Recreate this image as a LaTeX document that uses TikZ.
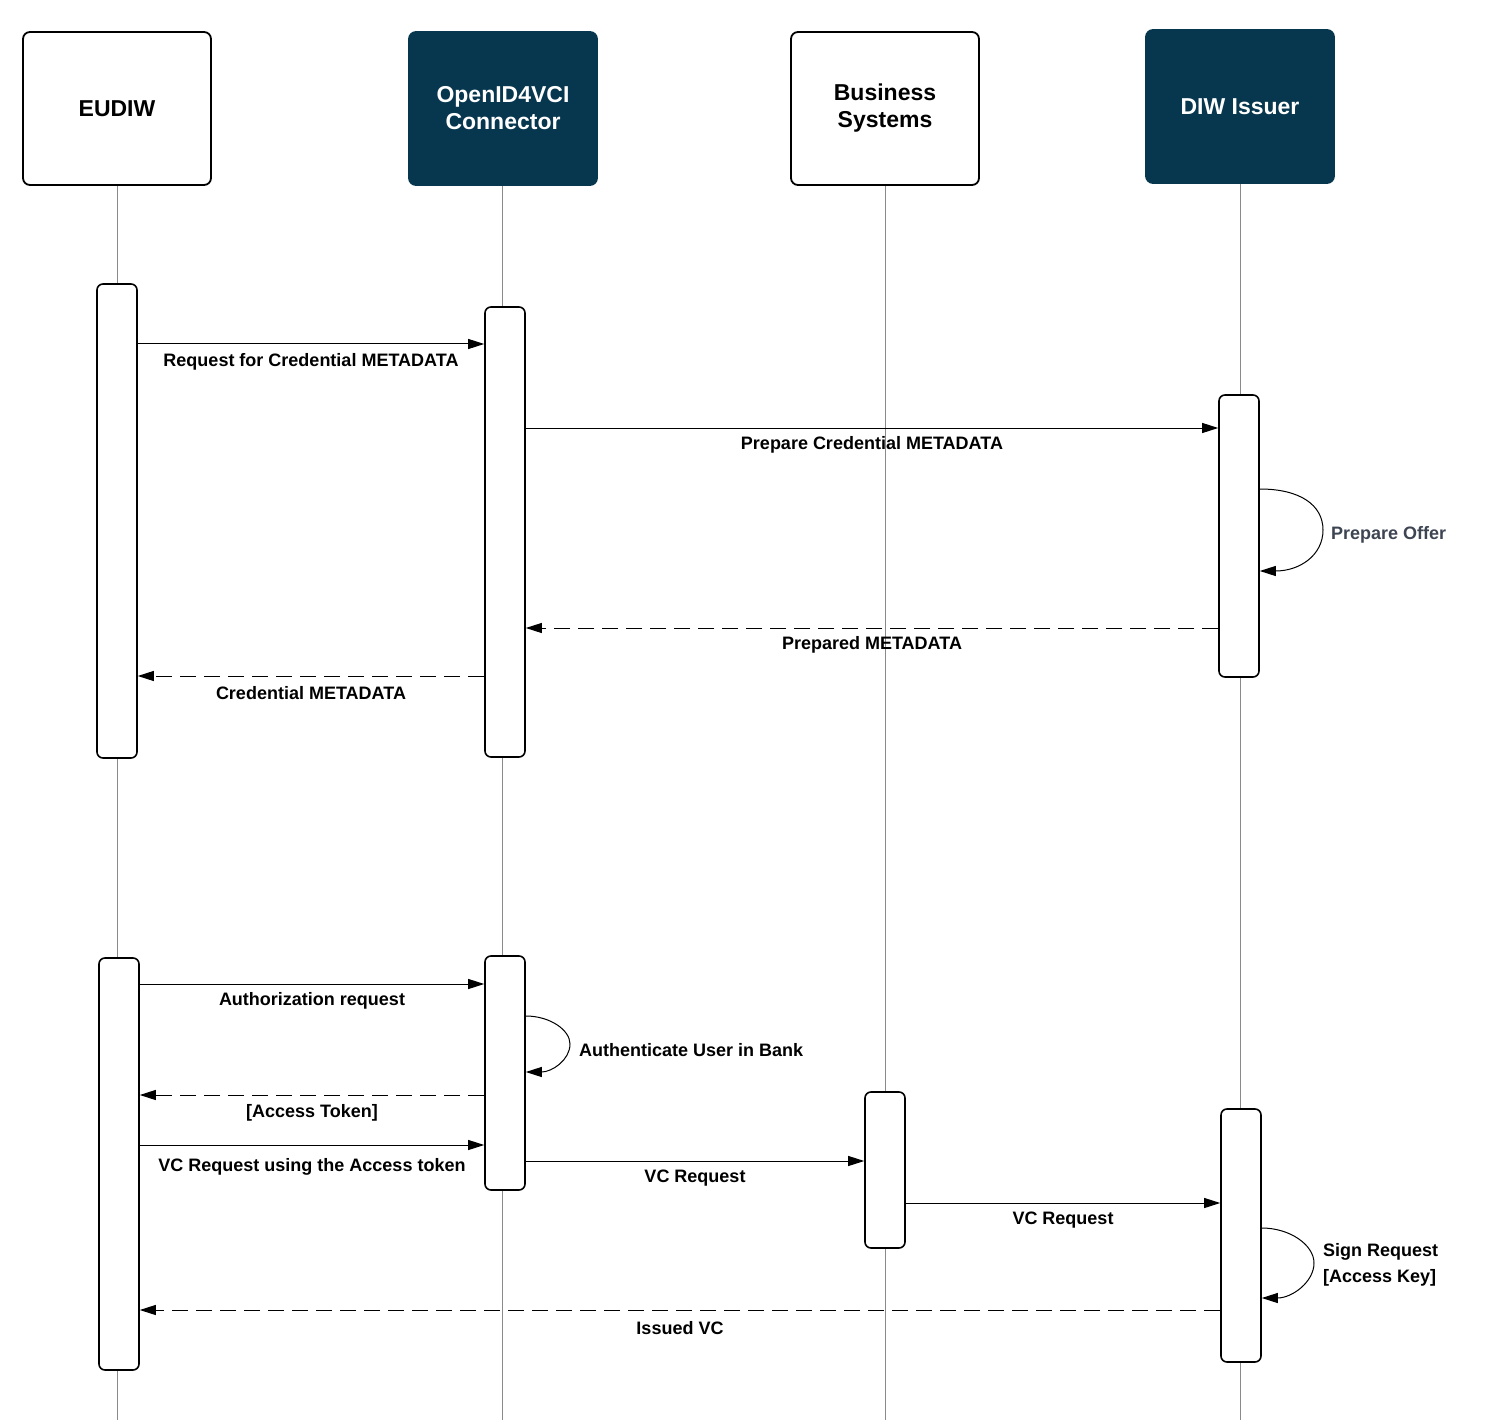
\documentclass[tikz,border=0pt]{standalone}
\usepackage{fontspec}
\setmainfont{Liberation Sans}
\usetikzlibrary{arrows.meta}
\definecolor{navy}{HTML}{07364F}
\definecolor{lifegray}{HTML}{8A8A8A}
\definecolor{offergray}{HTML}{3D4452}
\begin{document}
\begin{tikzpicture}[x=1pt,y=-1pt,
 hdr/.style={draw=black, line width=1.8pt, rounded corners=7pt, fill=white, minimum width=188pt, minimum height=153pt, align=center, font=\fontsize{23}{27}\selectfont\bfseries, inner sep=0pt},
 hdrdark/.style={hdr, draw=navy, fill=navy, text=white},
 actbar/.style={draw=black, line width=1.6pt, rounded corners=6pt, fill=white, minimum width=40pt, inner sep=0pt},
 life/.style={draw=lifegray, line width=0.9pt},
 msg/.style={draw=black, line width=1pt, -{Triangle[length=16pt,width=10pt]}},
 reply/.style={msg, dash pattern=on 16pt off 8pt},
 lbl/.style={font=\fontsize{18}{21}\selectfont\bfseries, inner sep=0pt, align=left}
]
\useasboundingbox (0,0) rectangle (1486,1420);

% headers
\node[hdr] (eudiw) at (117,108.5) {EUDIW};
\node[hdrdark] (conn) at (503,108.5) {OpenID4VCI\\Connector};
\node[hdr] (bus) at (885,108.5) {Business\\Systems};
\node[hdrdark] (iss) at (1240,106.5) {DIW Issuer};

% lifeline ends
\coordinate (eudiwEnd) at (117,1420);
\coordinate (connEnd) at (502,1420);
\coordinate (busEnd) at (885,1420);
\coordinate (issEnd) at (1240,1420);

\draw[life] (eudiw.south) -- (eudiwEnd);
\draw[life] (502,186) -- (connEnd);
\draw[life] (bus.south) -- (busEnd);
\draw[life] (iss.south) -- (issEnd);

% activation bars
\node[actbar, minimum height=474pt] (e1) at (117,521) {};
\node[actbar, minimum height=450pt] (c1) at (505,532) {};
\node[actbar, minimum height=282pt] (i1) at (1239,536) {};
\node[actbar, minimum height=412pt] (e2) at (119,1164) {};
\node[actbar, minimum height=234pt] (c2) at (505,1073) {};
\node[actbar, minimum height=156pt] (b1) at (885,1170) {};
\node[actbar, minimum height=253pt] (i2) at (1241,1235.5) {};

% phase 1
\draw[msg] (e1.east |- 0,344) -- (c1.west |- 0,344);
\node[lbl] (l1) at (311,362) {Request for Credential METADATA};

\draw[msg] (c1.east |- 0,428) -- (i1.west |- 0,428);
\node[lbl] (l2) at (872,445) {Prepare Credential METADATA};

\draw[msg] (i1.east |- 0,489) .. controls (1300,489) and (1323,505) .. (1323,530) .. controls (1323,555) and (1300,571) .. (i1.east |- 0,571);
\node[lbl, anchor=west, text=offergray] (l3) at (1331,535) {Prepare Offer};

\draw[reply] (i1.west |- 0,628) -- (c1.east |- 0,628);
\node[lbl] (l4) at (872,645) {Prepared METADATA};

\draw[reply] (c1.west |- 0,676) -- (e1.east |- 0,676);
\node[lbl] (l5) at (311,693) {Credential METADATA};

% phase 2
\draw[msg] (e2.east |- 0,984) -- (c2.west |- 0,984);
\node[lbl] (l6) at (312,1001) {Authorization request};

\draw[msg] (c2.east |- 0,1016) .. controls (550,1016) and (570,1030) .. (570,1044) .. controls (570,1060) and (552,1072) .. (c2.east |- 0,1072);
\node[lbl, anchor=west] (l7) at (579,1050) {Authenticate User in Bank};

\draw[reply] (c2.west |- 0,1095) -- (e2.east |- 0,1095);
\node[lbl] (l8) at (312,1113) {[Access Token]};

\draw[msg] (e2.east |- 0,1145) -- (c2.west |- 0,1145);
\node[lbl] (l9) at (312,1167) {VC Request using the Access token};

\draw[msg] (c2.east |- 0,1161) -- (b1.west |- 0,1161);
\node[lbl] (l10) at (695,1178) {VC Request};

\draw[msg] (b1.east |- 0,1203) -- (i2.west |- 0,1203);
\node[lbl] (l11) at (1063,1220) {VC Request};

\draw[msg] (i2.east |- 0,1228) .. controls (1290,1228) and (1314,1245) .. (1314,1263) .. controls (1314,1282) and (1292,1298) .. (i2.east |- 0,1298);
\node[lbl, anchor=west, font=\fontsize{18}{26}\selectfont\bfseries] (l12) at (1323,1265) {Sign Request\\{[Access Key]}};

\draw[reply] (i2.west |- 0,1310) -- (e2.east |- 0,1310);
\node[lbl] (l13) at (680,1328) {Issued VC};
\end{tikzpicture}
\end{document}
